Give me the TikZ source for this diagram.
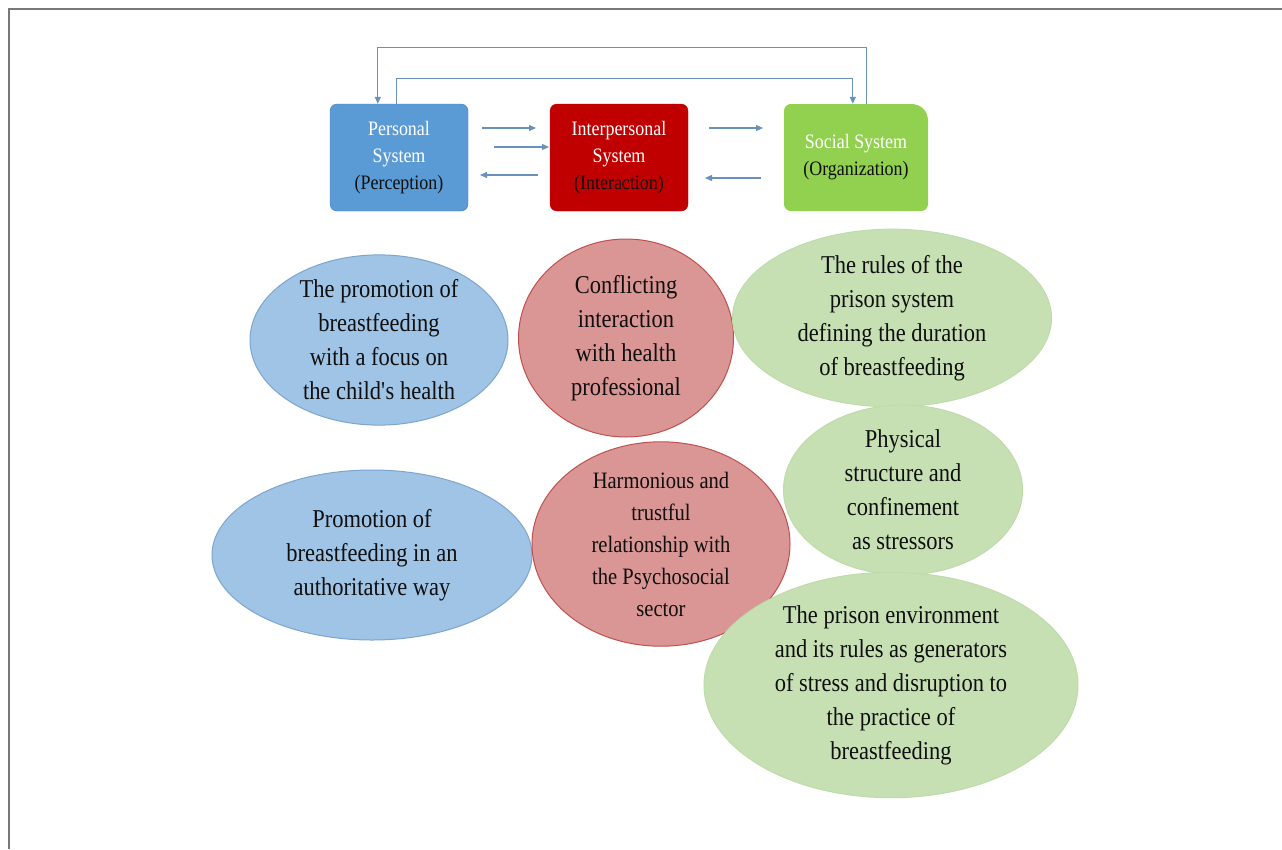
\documentclass[tikz,border=0pt]{standalone}
\usepackage{fontspec}
\setmainfont{Liberation Serif}[FakeStretch=0.875]
\usetikzlibrary{shapes.geometric,arrows.meta}
\definecolor{pboxc}{RGB}{91,155,213}
\definecolor{iboxc}{RGB}{192,0,0}
\definecolor{sboxc}{RGB}{146,208,80}
\definecolor{bfill}{RGB}{159,196,230}
\definecolor{bdraw}{RGB}{125,165,205}
\definecolor{rfill}{RGB}{218,150,149}
\definecolor{rdraw}{RGB}{192,80,77}
\definecolor{gfill}{RGB}{198,224,180}
\definecolor{gdraw}{RGB}{190,220,170}
\definecolor{arrc}{RGB}{105,145,185}
\definecolor{framec}{RGB}{120,120,120}
\definecolor{txt}{RGB}{15,15,15}
\tikzset{
  sysbox/.style={rounded corners=7pt, minimum height=107pt, inner sep=0pt, align=center,
    text=white, font=\fontsize{20.5}{27}\selectfont},
  ell/.style={ellipse, inner sep=0pt, align=center, text=txt, line width=1pt,
    font=\fontsize{25.7}{34}\selectfont},
  arr/.style={draw=arrc, line width=1.2pt, -{Triangle[length=7pt,width=6pt]}},
  frameline/.style={draw=framec, line width=2pt}
}
\begin{document}
\begin{tikzpicture}[x=1pt,y=-1pt]
\useasboundingbox (0,0) rectangle (1282,849);
\fill[white] (0,0) rectangle (1282,849);
\draw[frameline] (9,849) -- (9,9) -- (1282,9);

% system boxes
\node[sysbox, fill=pboxc, draw=pboxc!80!black, minimum width=138pt] (P) at (399,157.5)
  {Personal\\System\\\textcolor{txt}{(Perception)}};
\node[sysbox, fill=iboxc, draw=iboxc, minimum width=138pt] (I) at (619,157.5)
  {Interpersonal\\System\\\textcolor{txt}{(Interaction)}};
\fill[sboxc] (784,150) -- (784,111) .. controls (784,107) and (787,104) .. (791,104)
  -- (911,104) .. controls (921,104) and (928,111) .. (928,121)
  -- (928,204) .. controls (928,208) and (925,211) .. (921,211)
  -- (791,211) .. controls (787,211) and (784,208) .. (784,204) -- cycle;
\node[sysbox, minimum width=144pt] (S) at (856,157.5)
  {Social System\\\textcolor{txt}{(Organization)}};

% horizontal arrows
\coordinate (a1s) at (482,128); \coordinate (a1e) at (536,128);
\coordinate (a2s) at (494,147); \coordinate (a2e) at (549,147);
\coordinate (a3s) at (538,175); \coordinate (a3e) at (480,175);
\coordinate (a4s) at (709,128); \coordinate (a4e) at (763,128);
\coordinate (a5s) at (761,178); \coordinate (a5e) at (705,178);
\draw[arr] (a1s) -- (a1e);
\draw[arr] (a2s) -- (a2e);
\draw[arr] (a3s) -- (a3e);
\draw[arr] (a4s) -- (a4e);
\draw[arr] (a5s) -- (a5e);

% feedback loops
\draw[arr] ([xshift=83pt]S.north west) -- ++(0,-56) -| ([xshift=48pt]P.north west);
\draw[arr] ([xshift=67pt]P.north west) -- ++(0,-25) -| ([xshift=69pt]S.north west);

% ellipses
\node[ell, fill=bfill, draw=bdraw, minimum width=258pt, minimum height=168pt] (b1) at (379,340)
  {The promotion of\\breastfeeding\\with a focus on\\the child\textquotesingle s health};
\node[ell, fill=bfill, draw=bdraw, minimum width=320pt, minimum height=170pt] (b2) at (372,555)
  {Promotion of\\breastfeeding in an\\authoritative way};
\node[ell, fill=rfill, draw=rdraw, minimum width=215pt, minimum height=198pt] (r1) at (626,338)
  {Conflicting\\interaction\\with health\\professional};
\node[ell, fill=rfill, draw=rdraw, minimum width=258pt, minimum height=184pt,
  font=\fontsize{23.5}{32}\selectfont] (r2) at (661,544)
  {Harmonious and\\trustful\\relationship with\\the Psychosocial\\sector};
\node[ell, fill=gfill, draw=gdraw, minimum width=319pt, minimum height=163pt] (g1) at (892,318)
  {The rules of the\\prison system\\defining the duration\\of breastfeeding};
\node[ell, fill=gfill, draw=gdraw, minimum width=239pt, minimum height=148pt] (g2) at (903,490)
  {Physical\\structure and\\confinement\\as stressors};
\node[ell, fill=gfill, draw=gdraw, minimum width=374pt, minimum height=225pt] (g3) at (891,685)
  {The prison environment\\and its rules as generators\\of stress and disruption to\\the practice of\\breastfeeding};
\end{tikzpicture}
\end{document}
